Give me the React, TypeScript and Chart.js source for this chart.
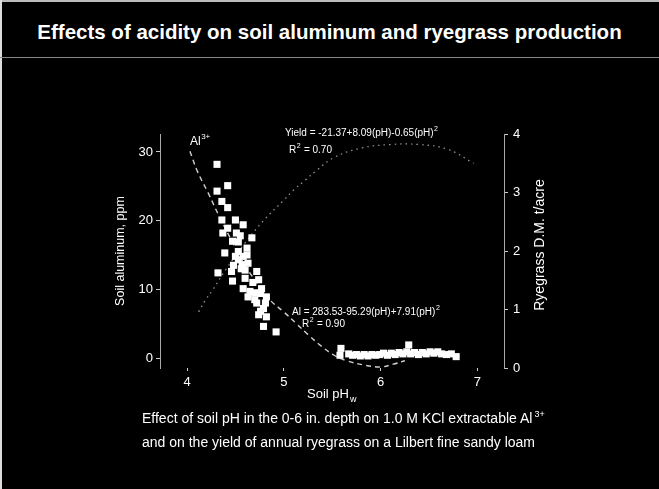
import React, { useEffect, useRef } from "react";
import { Chart, registerables } from "chart.js";

Chart.register(...registerables);

// Scatter observations: soil pH (water) vs KCl-extractable Al (ppm)
const alPH = [
  4.31, 4.42, 4.31, 4.36, 4.42, 4.36, 4.5, 4.42, 4.58, 4.37, 4.51, 4.67, 4.62, 4.39, 4.53, 4.5,
  4.58, 4.53, 4.53, 4.32, 4.46, 4.47, 4.6, 4.63, 4.72, 4.6, 4.74, 4.58, 4.65, 4.77, 4.63, 4.76,
  4.82, 4.72, 4.81, 4.74, 4.82, 4.79, 4.92, 4.47, 4.55, 4.48, 4.56, 4.68, 4.7, 4.57, 4.62, 4.7,
  4.79, 4.76,
  5.58, 5.59, 5.67, 5.71, 5.75, 5.79, 5.83, 5.87, 5.91, 5.95, 5.99, 6.03, 6.07, 6.11, 6.15, 6.19,
  6.23, 6.27, 6.29, 6.31, 6.35, 6.39, 6.43, 6.47, 6.51, 6.55, 6.59, 6.63, 6.68, 6.73, 6.78,
];
const alPpm = [
  28.2, 25.1, 24.3, 22.8, 21.9, 20.1, 20.1, 18.9, 19.4, 18.2, 18.2, 17.5, 16.0, 15.3, 16.9, 14.8,
  14.8, 15.5, 14.3, 12.4, 12.6, 11.2, 12.8, 13.8, 12.6, 11.6, 11.4, 10.1, 9.7, 10.1, 8.9, 9.4,
  8.9, 8.0, 8.0, 6.3, 6.0, 4.6, 3.8, 17.0, 17.8, 13.5, 13.0, 11.0, 9.5, 13.6, 15.0, 8.5,
  7.2, 6.8,
  0.4, 1.4, 0.6, 0.4, 0.5, 0.3, 0.5, 0.3, 0.5, 0.4, 0.5, 0.7, 0.4, 0.7, 0.5, 0.8,
  0.6, 0.9, 1.9, 0.6, 0.8, 0.5, 0.8, 0.6, 0.9, 0.7, 0.9, 0.6, 0.5, 0.6, 0.2,
];

// Fitted Al curve
const alFitPH = [4.03, 4.11, 4.22, 4.32, 4.45, 4.6, 4.75, 4.86, 5.0, 5.13, 5.25, 5.39, 5.52, 5.65, 5.82, 6.0, 6.13, 6.25];
const alFitPpm = [30.1, 27.1, 24.0, 21.0, 17.4, 13.5, 10.4, 8.4, 6.7, 5.0, 3.4, 1.7, 0.4, -0.4, -1.0, -1.3, -0.9, -0.4];

// Fitted yield curve
const yieldFitPH = [4.12, 4.19, 4.26, 4.4, 4.6, 4.79, 5.0, 5.1, 5.22, 5.34, 5.52, 5.8, 6.1, 6.4, 6.69, 6.96];
const yieldFitTons = [0.96, 1.16, 1.32, 1.68, 2.14, 2.52, 2.87, 3.04, 3.21, 3.38, 3.6, 3.76, 3.82, 3.82, 3.74, 3.5];

const xTicks = [4, 5, 6, 7];
const leftTicks = [0, 10, 20, 30];
const rightTicks = [0, 1, 2, 3, 4];

const FONT = "'Liberation Sans', Arial, Helvetica, sans-serif";

function drawSup(c: CanvasRenderingContext2D, x: number, y: number, base: string, sup: string, rest: string, size: number) {
  c.font = `${size}px ${FONT}`;
  c.textAlign = "left";
  c.textBaseline = "middle";
  c.fillText(base, x, y);
  let w = c.measureText(base).width;
  c.font = `${Math.round(size * 0.7)}px ${FONT}`;
  c.fillText(sup, x + w + 0.5, y - size * 0.4);
  w += c.measureText(sup).width + 1;
  c.font = `${size}px ${FONT}`;
  c.fillText(rest, x + w, y);
}

export default function App() {
  const ref = useRef<HTMLCanvasElement>(null);

  useEffect(() => {
    const canvas = ref.current!;
    const textPlugin = {
      id: "annotText",
      afterDraw(chart: any) {
        const c: CanvasRenderingContext2D = chart.ctx;
        c.save();
        c.fillStyle = "#ffffff";
        // Left axis title
        c.save();
        c.translate(121, 251);
        c.rotate(-Math.PI / 2);
        c.font = `12.5px ${FONT}`;
        c.textAlign = "center";
        c.textBaseline = "middle";
        c.fillText("Soil aluminum, ppm", 0, 0);
        c.restore();
        // Right axis title
        c.save();
        c.translate(540, 245);
        c.rotate(-Math.PI / 2);
        c.font = `14px ${FONT}`;
        c.textAlign = "center";
        c.textBaseline = "middle";
        c.fillText("Ryegrass D.M. t/acre", 0, 0);
        c.restore();
        // X axis title
        c.font = `13px ${FONT}`;
        c.textAlign = "left";
        c.textBaseline = "middle";
        c.fillText("Soil pH", 307, 394);
        const wx = c.measureText("Soil pH").width;
        c.font = `9px ${FONT}`;
        c.fillText("w", 307 + wx + 1, 400);
        // Al3+ label
        drawSup(c, 190, 142, "Al", "3+", "", 12);
        // Equations
        drawSup(c, 285, 133, "Yield = -21.37+8.09(pH)-0.65(pH)", "2", "", 10);
        drawSup(c, 289, 150, "R", "2", " = 0.70", 10);
        drawSup(c, 292, 312, "Al = 283.53-95.29(pH)+7.91(pH)", "2", "", 10);
        drawSup(c, 302, 324, "R", "2", " = 0.90", 10);
        c.restore();
      },
    };

    const chart = new Chart(canvas, {
      type: "scatter",
      data: {
        datasets: [
          {
            label: "Al",
            data: alPH.map((x, i) => ({ x, y: alPpm[i] })),
            yAxisID: "yAl",
            pointStyle: "rect",
            pointRadius: 5,
            pointBorderWidth: 0,
            backgroundColor: "#ffffff",
            borderColor: "#ffffff",
            showLine: false,
          },
          {
            label: "Al fit",
            data: alFitPH.map((x, i) => ({ x, y: alFitPpm[i] })),
            yAxisID: "yAl",
            showLine: true,
            pointRadius: 0,
            borderColor: "#d0d0d0",
            borderWidth: 1.4,
            borderDash: [5, 4],
            tension: 0.4,
            fill: false,
          },
          {
            label: "Yield fit",
            data: yieldFitPH.map((x, i) => ({ x, y: yieldFitTons[i] })),
            yAxisID: "yYield",
            showLine: true,
            pointRadius: 0,
            borderColor: "#9a9a9a",
            borderWidth: 1.2,
            borderDash: [1.5, 4],
            tension: 0.4,
            fill: false,
          },
        ],
      },
      options: {
        animation: false,
        responsive: false,
        layout: { padding: { top: 134, left: 0, right: 0, bottom: 0 } },
        plugins: {
          legend: { display: false },
          tooltip: { enabled: false },
          title: { display: false },
        },
        scales: {
          x: {
            type: "linear",
            position: "bottom",
            min: 3.721,
            max: 7.274,
            afterBuildTicks: (s: any) => {
              s.ticks = xTicks.map((v) => ({ value: v }));
            },
            afterFit: (s: any) => {
              s.height = 121;
            },
            grid: { display: true, drawOnChartArea: false, drawTicks: true, tickLength: 3, color: "#cccccc" },
            border: { display: false },
            ticks: { color: "#ffffff", font: { size: 13, family: FONT }, padding: 4, autoSkip: false, maxRotation: 0 },
          },
          yAl: {
            type: "linear",
            position: "left",
            min: -1.456,
            max: 32.62,
            afterBuildTicks: (s: any) => {
              s.ticks = leftTicks.map((v) => ({ value: v }));
            },
            afterFit: (s: any) => {
              s.width = 160;
            },
            grid: { display: true, drawOnChartArea: false, drawTicks: true, tickLength: 4, color: "#cccccc" },
            border: { display: true, color: "#aaaaaa", width: 1, dash: [3, 3] },
            ticks: { color: "#ffffff", font: { size: 13, family: FONT }, padding: 3, autoSkip: false },
          },
          yYield: {
            type: "linear",
            position: "right",
            min: 0,
            max: 4,
            afterBuildTicks: (s: any) => {
              s.ticks = rightTicks.map((v) => ({ value: v }));
            },
            afterFit: (s: any) => {
              s.width = 155;
            },
            grid: { display: true, drawOnChartArea: false, drawTicks: true, tickLength: 4, color: "#cccccc" },
            border: { display: true, color: "#aaaaaa", width: 1, dash: [2, 3] },
            ticks: { color: "#ffffff", font: { size: 13, family: FONT }, padding: 5, autoSkip: false },
          },
        },
      },
      plugins: [textPlugin],
    } as any);
    return () => chart.destroy();
  }, []);

  return (
    <div
      style={{
        position: "absolute",
        left: 0,
        top: 0,
        width: 659,
        height: 489,
        background: "#000",
        overflow: "hidden",
        fontFamily: FONT,
        color: "#fff",
      }}
    >
      <div style={{ position: "absolute", left: 0, top: 0, width: 659, height: 2, background: "#bbb" }} />
      <div style={{ position: "absolute", left: 0, top: 0, width: 2, height: 489, background: "#ddd" }} />
      <div style={{ position: "absolute", left: 0, top: 57, width: 659, height: 1, background: "#888" }} />
      <div
        style={{
          position: "absolute",
          left: 0,
          top: 20,
          width: 659,
          height: 24,
          lineHeight: "24px",
          textAlign: "center",
          fontWeight: "bold",
          fontSize: 20.5,
          whiteSpace: "nowrap",
        }}
      >
        Effects of acidity on soil aluminum and ryegrass production
      </div>
      <canvas ref={ref} width={659} height={489} style={{ position: "absolute", left: 0, top: 0 }} />
      <div
        style={{
          position: "absolute",
          left: 142,
          top: 408,
          fontSize: 14,
          lineHeight: "21.5px",
          whiteSpace: "nowrap",
        }}
      >
        <div>
          Effect of soil pH in the 0-6 in. depth on 1.0 M KCl extractable Al
          <span style={{ fontSize: 9, position: "relative", top: -6, marginLeft: 2 }}>3+</span>
        </div>
        <div>and on the yield of annual ryegrass on a Lilbert fine sandy loam</div>
      </div>
    </div>
  );
}
